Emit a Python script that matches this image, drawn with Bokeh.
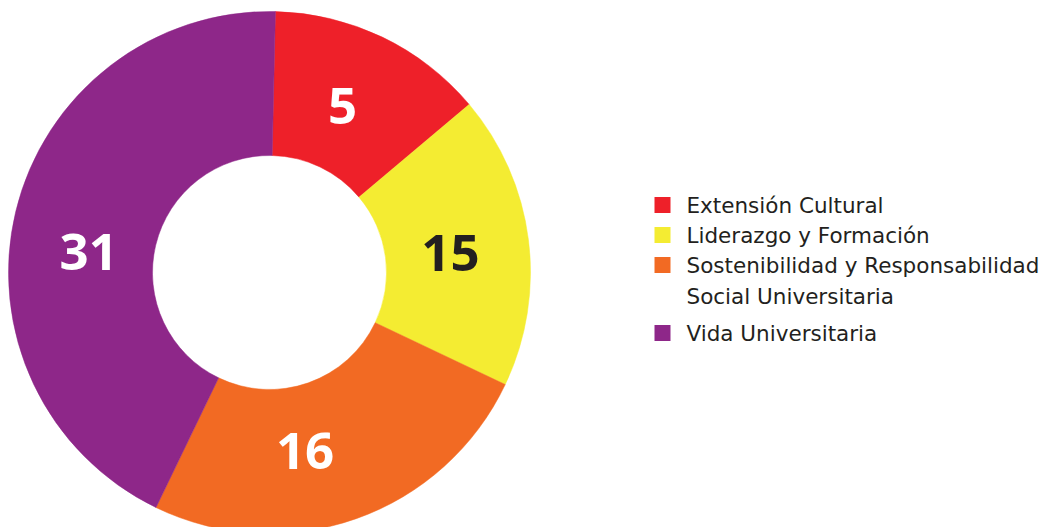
import math
from bokeh.plotting import figure
from bokeh.models import Range1d, ColumnDataSource
from bokeh.core.properties import value
from bokeh.embed import file_html
from bokeh.resources import INLINE

# ---- data ----
categories = ["Extensión Cultural", "Liderazgo y Formación",
              "Sostenibilidad y Responsabilidad\nSocial Universitaria", "Vida Universitaria"]
counts = [5, 15, 16, 31]
# share of the ring (percent) as drawn in the picture
shares = [13.5, 18.2, 25.1, 43.2]
colors = ["#EE2029", "#F4EC32", "#F26A23", "#8E2789"]
label_colors = ["#FFFFFF", "#231F20", "#FFFFFF", "#FFFFFF"]

W, H = 1049, 527
p = figure(width=W, height=H, output_backend="svg", toolbar_location=None,
           x_range=Range1d(0, W), y_range=Range1d(0, H), min_border=0)
p.axis.visible = False
p.xgrid.visible = False
p.ygrid.visible = False
p.outline_line_color = None
p.background_fill_color = "white"

cx, cy = 269, H - 272
r_in, r_out = 117, 261
offset = 1.3  # degrees clockwise from north where the first slice starts
label_frac = [0.46, 0.52, 0.59, 0.455]  # where along each slice its number sits
label_r = 182

total = sum(shares)
starts, ends, lx, ly = [], [], [], []
acc = offset
for s, f in zip(shares, label_frac):
    a0 = acc
    a1 = acc + s / total * 360.0
    acc = a1
    starts.append(math.radians(90 - a0))
    ends.append(math.radians(90 - a1))
    mid = math.radians(90 - (a0 + f * (a1 - a0)))
    lx.append(cx + label_r * math.cos(mid))
    ly.append(cy + label_r * math.sin(mid))

src = ColumnDataSource(dict(start=starts, end=ends, color=colors,
                            lx=lx, ly=ly, txt=[str(c) for c in counts], tc=label_colors))
p.annular_wedge(x=cx, y=cy, inner_radius=r_in, outer_radius=r_out,
                start_angle="start", end_angle="end", direction="clock",
                fill_color="color", line_color="color", line_width=0.5, source=src)
p.text(x="lx", y="ly", text="txt", text_color="tc", source=src,
       text_font=value("Open Sans"), text_font_style="bold", text_font_size="51px",
       text_align="center", text_baseline="middle")

# ---- legend ----
ly0 = H - 204.5
sq_x, tx = 662, 686
y = ly0
for cat, col in zip(categories, colors):
    lines = cat.split("\n")
    p.rect(x=sq_x, y=y, width=16, height=16, fill_color=col, line_color=None)
    for k, line in enumerate(lines):
        p.text(x=tx, y=y - 31 * k, text=[line], text_color="#231F20",
               text_font=value("DejaVu Sans"), text_font_size="21.5px",
               text_align="left", text_baseline="middle")
    y -= 30 + 38 * (len(lines) - 1)

open("out.html", "w").write(file_html(p, INLINE))
